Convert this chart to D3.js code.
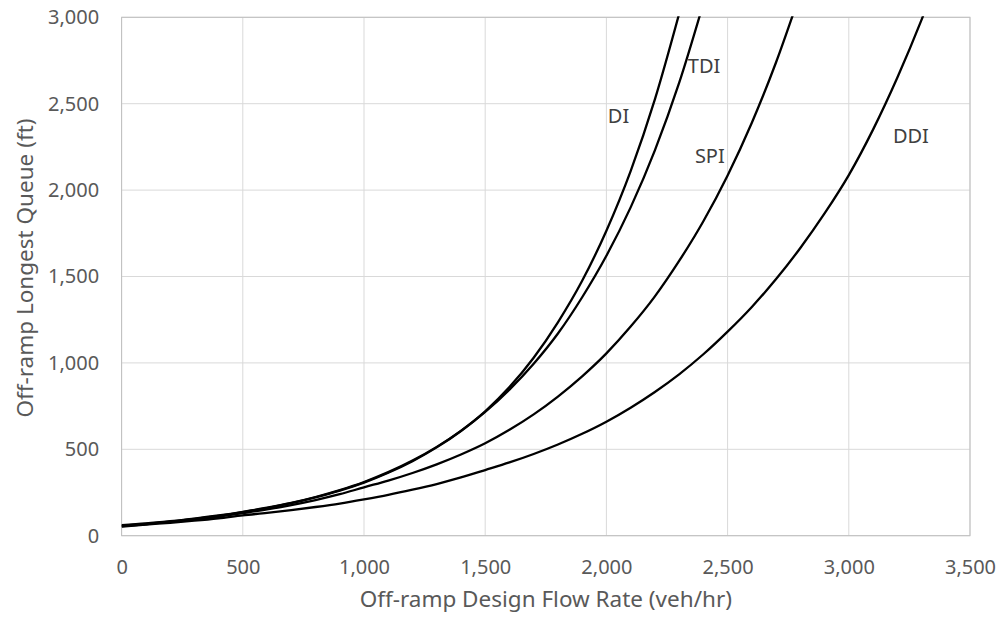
<!DOCTYPE html>
<html>
<head>
<meta charset="utf-8">
<script src="https://cdn.jsdelivr.net/npm/d3@7"></script>
<style>
  html, body { margin: 0; padding: 0; background: #fff; }
  svg { display: block; }
  text { font-family: "Noto Sans", "Open Sans", sans-serif; }
</style>
</head>
<body>
<svg id="chart" width="1002" height="622"></svg>
<script>
// ---- data ----
const flowRates = [0,100,200,300,400,500,600,700,800,900,1000,1100,1200,1300,1400,1500,1600,1700,1800,1900,2000,2100,2200,2300,2400,2500,2600,2700,2800,2900,3000,3100,3200,3300,3400];
const diQueue  = [58,69,82,97,115,136,160,188,222,261,307,364,431,511,606,720,860,1030,1235,1475,1765,2110,2525,3020];
const tdiQueue = [61,71,84,99,117,138,162,190,224,264,311,368,435,514,607,716,845,995,1170,1380,1620,1900,2230,2620,3080];
const spiQueue = [56,66,79,93,111,131,152,177,206,240,280,319,363,413,470,535,613,702,805,922,1055,1210,1385,1590,1820,2085,2390,2740,3140];
const ddiQueue = [52,64,75,87,101,118,132,148,166,186,210,236,266,299,337,380,424,473,528,590,660,741,832,934,1050,1181,1324,1485,1665,1865,2087,2350,2650,2985,3360];
const seriesNames = ["DI","TDI","SPI","DDI"];
const labelX = [2006, 2336, 2365, 3182];
const labelY = [2388, 2677, 2157, 2271];
const xTicks = [0,500,1000,1500,2000,2500,3000,3500];
const yTicks = [0,500,1000,1500,2000,2500,3000];
const xTitle = "Off-ramp Design Flow Rate (veh/hr)";
const yTitle = "Off-ramp Longest Queue (ft)";

// ---- layout ----
const pL = 121.6, pR = 970, pT = 17.3, pB = 535.7;
const svg = d3.select("#chart");
const x = d3.scaleLinear().domain([0, 3500]).range([pL, pR]);
const y = d3.scaleLinear().domain([0, 3000]).range([pB, pT]);
const fmt = d3.format(",");
const tickFont = 20, titleFont = 22.5;

// gridlines
svg.append("g").selectAll("line").data(xTicks).join("line")
  .attr("x1", d => x(d)).attr("x2", d => x(d))
  .attr("y1", pT).attr("y2", pB)
  .attr("stroke", "#d9d9d9").attr("stroke-width", 1);
svg.append("g").selectAll("line").data(yTicks).join("line")
  .attr("x1", pL).attr("x2", pR)
  .attr("y1", d => y(d)).attr("y2", d => y(d))
  .attr("stroke", "#d9d9d9").attr("stroke-width", 1);
// plot border
svg.append("rect").attr("x", pL).attr("y", pT)
  .attr("width", pR - pL).attr("height", pB - pT)
  .attr("fill", "none").attr("stroke", "#bfbfbf").attr("stroke-width", 1);

// axes (labels only)
const xAxis = svg.append("g").attr("transform", `translate(0,${pB})`)
  .call(d3.axisBottom(x).tickValues(xTicks).tickFormat(fmt).tickSize(0).tickPadding(24));
const yAxis = svg.append("g").attr("transform", `translate(${pL},0)`)
  .call(d3.axisLeft(y).tickValues(yTicks).tickFormat(fmt).tickSize(0).tickPadding(22.5));
[xAxis, yAxis].forEach(a => {
  a.select(".domain").remove();
  a.selectAll("text").attr("fill", "#595959").style("font-size", tickFont + "px")
    .style("font-family", '"Noto Sans", "Open Sans", sans-serif');
});

// titles
svg.append("text").attr("x", (pL + pR) / 2).attr("y", 606.7)
  .attr("text-anchor", "middle").attr("fill", "#595959")
  .style("font-size", titleFont + "px").text(xTitle);
svg.append("text")
  .attr("transform", `translate(32.5,268) rotate(-90)`)
  .attr("text-anchor", "middle").attr("fill", "#595959")
  .style("font-size", titleFont + "px").text(yTitle);

// clip
svg.append("clipPath").attr("id", "plotclip").append("rect")
  .attr("x", pL).attr("y", pT - 1).attr("width", pR - pL).attr("height", pB - pT + 2);

const allSeries = [diQueue, tdiQueue, spiQueue, ddiQueue];
const line = d3.line()
  .x((d, i) => x(flowRates[i]))
  .y(d => y(d))
  .curve(d3.curveMonotoneX);
svg.append("g").attr("clip-path", "url(#plotclip)")
  .selectAll("path").data(allSeries).join("path")
  .attr("d", d => line(d))
  .attr("fill", "none").attr("stroke", "#000").attr("stroke-width", 2.3)
  .attr("stroke-linejoin", "round");

// series labels
svg.append("g").selectAll("text").data(seriesNames).join("text")
  .attr("x", (d, i) => x(labelX[i]))
  .attr("y", (d, i) => y(labelY[i]))
  .attr("fill", "#404040").style("font-size", tickFont + "px")
  .text(d => d);
</script>
</body>
</html>
